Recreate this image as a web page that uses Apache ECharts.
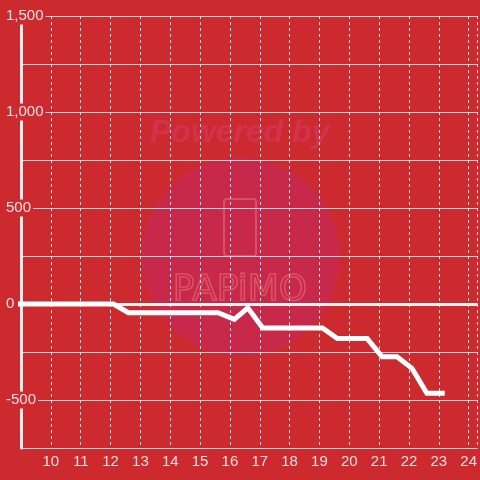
<!DOCTYPE html>
<html>
<head>
<meta charset="utf-8">
<script src="https://cdn.jsdelivr.net/npm/echarts@6/dist/echarts.min.js"></script>
<style>
  html, body { margin: 0; padding: 0; background: #cd2a2f; }
  #chart { width: 480px; height: 480px; }
</style>
</head>
<body>
<div id="chart"></div>
<script>
// 数据
const xValues = [8.88, 12.1, 12.6, 15.1, 15.6, 16.15, 16.6, 17.1, 19.1, 19.6, 20.6, 21.1, 21.6, 22.1, 22.6, 23.2];
const yValues = [0, 0, -45, -45, -45, -80, -20, -125, -125, -180, -180, -275, -275, -335, -465, -465];
const yLabelValues = [-500, 0, 500, 1000, 1500];

const bg = '#cd2a2f';
const textColor = '#f3dede';

document.addEventListener('DOMContentLoaded', function() {
    const chart = echarts.init(document.getElementById('chart'));
    chart.setOption({
        backgroundColor: bg,
        animation: false,
        textStyle: { fontFamily: 'Liberation Sans, Arial, sans-serif' },
        grid: { left: 21, right: 0, top: 16, bottom: 32, containLabel: false },
        graphic: [
            {
                type: 'circle', z: -10,
                shape: { cx: 241, cy: 257, r: 99 },
                style: { fill: '#c8294a' }
            },
            {
                type: 'text', z: -10, left: 150, top: 117,
                style: {
                    text: 'Powered by', fill: '#d2324d',
                    font: 'italic bold 32px Liberation Sans, Arial, sans-serif'
                }
            },
            {
                type: 'rect', z: -9,
                shape: { x: 224, y: 199, width: 32, height: 57, r: 3 },
                style: { fill: 'none', stroke: '#d9506a', lineWidth: 2 }
            },
            {
                type: 'text', z: -9, left: 172, top: 272,
                style: {
                    text: 'PAPiMO', fill: 'none', stroke: '#dc5466', lineWidth: 1.5,
                    font: '36px DejaVu Sans, sans-serif'
                }
            }
        ],
        xAxis: {
            type: 'value',
            min: 9,
            max: 24.3,
            interval: 1,
            axisLine: { show: false },
            axisTick: { show: false },
            axisLabel: {
                color: textColor, fontSize: 15, margin: 6,
                showMinLabel: false, showMaxLabel: false,
                formatter: function(v) { return (v >= 10 && v <= 24 && v % 1 === 0) ? String(v) : ''; }
            },
            splitLine: { show: true, lineStyle: { color: '#e2e2e2', type: [3, 3], width: 1 } }
        },
        yAxis: {
            type: 'value',
            min: -750,
            max: 1500,
            interval: 250,
            axisLine: { show: true, lineStyle: { color: '#f5f0f0', width: 3 } },
            axisTick: { show: false },
            axisLabel: {
                color: textColor, fontSize: 15, align: 'left', margin: 16,
                backgroundColor: bg, padding: [1, 2, 1, 1],
                formatter: function(v) {
                    if (yLabelValues.indexOf(v) < 0) return '';
                    return v.toLocaleString('en-US');
                }
            },
            splitLine: { show: true, lineStyle: { color: '#d6d6d6', width: 1 } }
        },
        series: [{
            type: 'line',
            data: xValues.map(function(x, i) { return [x, yValues[i]]; }),
            showSymbol: false,
            clip: false,
            lineStyle: { color: '#ffffff', width: 5, cap: 'butt', join: 'miter' },
            markLine: {
                silent: true,
                symbol: 'none',
                label: { show: false },
                lineStyle: { color: '#f5f0f0', width: 3, type: 'solid' },
                data: [{ yAxis: 0 }]
            },
            z: 5
        }]
    });
});
</script>
</body>
</html>
